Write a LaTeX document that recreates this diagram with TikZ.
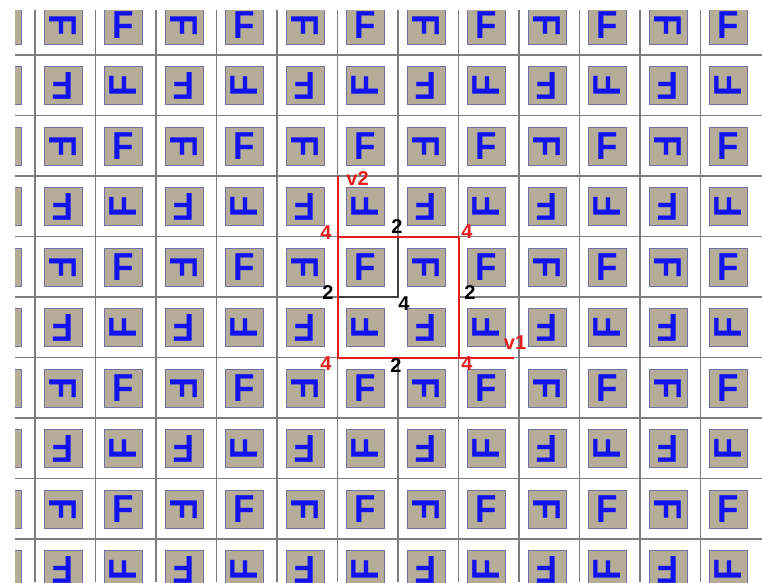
\documentclass[tikz,border=0pt]{standalone}
\usepackage{fontspec}
\setmainfont{Liberation Sans}
\definecolor{tilefill}{RGB}{181,173,152}
\definecolor{tileedge}{RGB}{112,112,165}
\definecolor{glyphblue}{RGB}{18,18,238}
\definecolor{gridgray}{RGB}{125,125,125}
\definecolor{markred}{RGB}{228,30,30}
\begin{document}
\begin{tikzpicture}[x=1pt,y=-1pt,
    tile/.style={draw=tileedge,fill=tilefill,line width=0.8pt,minimum size=38pt,inner sep=0pt},
    glyph/.style={text=glyphblue,font=\fontsize{39}{39}\selectfont\bfseries,inner sep=0pt,xscale=0.9},
    gridline/.style={draw=gridgray,line width=1.4pt},
    redline/.style={draw=markred,line width=2pt},
    innerline/.style={draw=black!75,line width=1.4pt},
    redlab/.style={text=markred,font=\fontsize{20}{20}\selectfont\bfseries,inner sep=0pt},
    blklab/.style={text=black,font=\fontsize{20}{20}\selectfont\bfseries,inner sep=0pt}]
\useasboundingbox (0,0) rectangle (762,582);
\fill[white] (0,0) rectangle (762,582);
\begin{scope}
\clip (15,10) rectangle (762,582);
% grid
\foreach \c in {1,...,12} {
  \ifnum\c=7\else
    \draw[gridline] (-25.5+60.5*\c,10) -- (-25.5+60.5*\c,582);
  \fi
}
\foreach \r in {1,...,9} {
  \ifnum\r=5\else
    \draw[gridline] (15,-5.5+60.5*\r) -- (762,-5.5+60.5*\r);
  \fi
}
\draw[gridline] (398,10) -- (398,297);
\draw[gridline] (398,357.5) -- (398,582);
\draw[gridline] (15,297) -- (398,297);
\draw[gridline] (458.5,297) -- (762,297);
% tiles
\foreach \c in {0,...,12}
  \foreach \r in {0,...,9} {
    \pgfmathtruncatemacro{\ang}{ifthenelse(mod(\r,2)==0,ifthenelse(mod(\c,2)==1,-90,0),ifthenelse(mod(\c,2)==1,180,90))}
    \node[tile] (t-\c-\r) at (2.5+60.5*\c,25+60.5*\r) {};
    \node[rotate=\ang,glyph] (f-\c-\r) at (t-\c-\r) {F};
  }
\end{scope}
% cell and its neighbourhood
\coordinate (tl) at (337.5,236.5);
\coordinate (tr) at (458.5,236.5);
\coordinate (bl) at (337.5,357.5);
\coordinate (br) at (458.5,357.5);
\coordinate (mt) at (398,236.5);
\coordinate (ml) at (337.5,297);
\coordinate (mc) at (398,297);
\coordinate (v2end) at (337.5,176);
\coordinate (v1end) at (514,357.5);
\draw[innerline] (mt) -- (mc) -- (ml);
\draw[redline] (v2end) -- (tl) -- (tr) -- (br) -- (bl) -- cycle;
\draw[redline] (br) -- (v1end);
\node[redlab] (v2) at (357.5,179) {v2};
\node[redlab] (v1) at (515,343) {v1};
\node[redlab] (ctl) at (326,233) {4};
\node[redlab] (ctr) at (467,232) {4};
\node[redlab] (cbl) at (326,364) {4};
\node[redlab] (cbr) at (467,364) {4};
\node[blklab] (et) at (397,226.5) {2};
\node[blklab] (el) at (328,293) {2};
\node[blklab] (er) at (470,293) {2};
\node[blklab] (eb) at (396,366) {2};
\node[blklab] (cc) at (404,304) {4};
\end{tikzpicture}
\end{document}
